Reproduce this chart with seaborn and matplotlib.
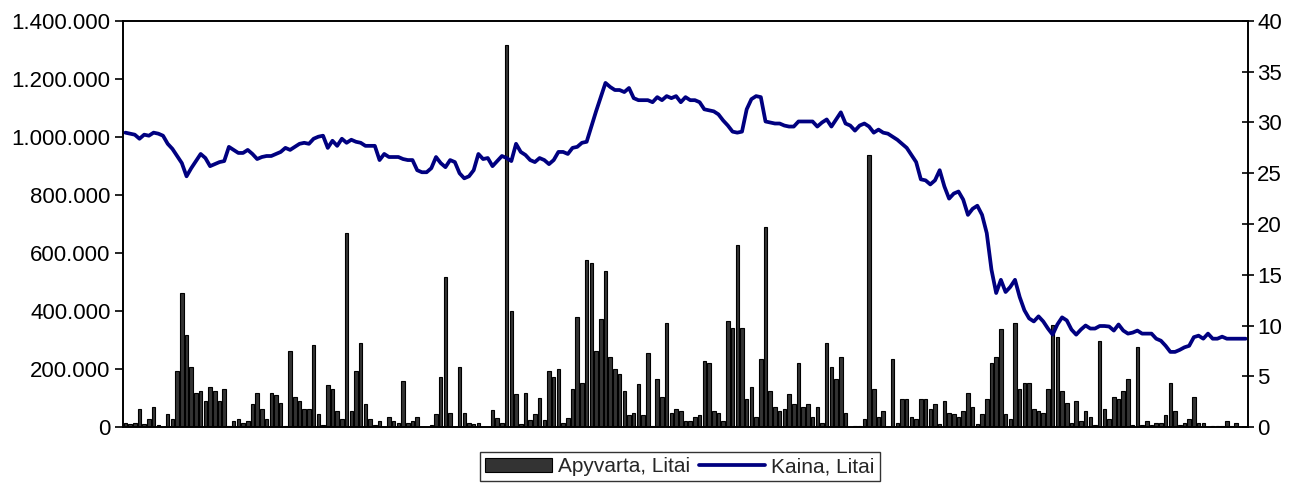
import matplotlib
matplotlib.use("Agg")
import matplotlib.pyplot as plt
from matplotlib.ticker import FuncFormatter, MultipleLocator
import seaborn as sns
import pandas as pd
import numpy as np

# daily turnover, thousands of litai (left to right)
turnover_k = [
    13, 10, 15, 62, 10, 27, 70, 8, 0, 44, 27, 194, 463, 317, 208, 118, 125, 91, 139, 125,
    91, 131, 3, 22, 27, 15, 22, 78, 118, 62, 27, 118, 111, 84, 5,
    263, 105, 91, 62, 62, 283, 44, 8, 145, 131, 56, 28, 670, 56, 194, 290, 78, 28, 8, 22,
    0, 36, 22, 15, 159, 15, 22, 36, 0, 0, 8, 44, 173, 518,
    49, 0, 208, 49, 15, 10, 15, 0, 0, 57, 30, 15, 1317, 400, 113, 10, 118, 24, 44, 99,
    24, 194, 174, 201, 15, 30, 132, 380, 153, 575, 567, 263, 372, 539,
    242, 200, 182, 125, 41, 49, 147, 41, 256, 3, 166, 105, 360, 49, 63, 56, 22, 22, 36, 41,
    229, 222, 56, 49, 22, 367, 340, 628, 340, 98, 139, 36, 236, 691,
    125, 70, 56, 62, 113, 78, 222, 70, 78, 36, 70, 15, 291, 208, 167, 242, 49, 0, 5, 5,
    29, 938, 131, 36, 56, 0, 234, 15, 97, 97, 36, 29, 97, 97, 62,
    78, 9, 91, 49, 44, 36, 56, 118, 70, 9, 44, 98, 222, 242, 339, 44, 27, 360, 132, 153,
    153, 62, 56, 49, 132, 352, 311, 125, 84, 15, 91, 22, 56, 36,
    7, 298, 62, 29, 105, 98, 124, 167, 7, 277, 7, 22, 7, 15, 15, 43, 152, 56, 7, 15,
    29, 105, 15, 15, 0, 5, 5, 5, 22, 5, 15, 0, 0,
]

# share price, litai
price = [
    29.0, 28.9, 28.8, 28.4, 28.8, 28.7, 29.0, 28.9, 28.7, 27.9, 27.4, 26.7, 26.0, 24.7, 25.5,
    26.2, 26.9, 26.5, 25.7, 25.9, 26.1, 26.2, 27.6, 27.3, 27.0, 27.0, 27.3, 26.9, 26.4, 26.6,
    26.7, 26.7, 26.9, 27.1, 27.5,
    27.3, 27.6, 27.9, 28.0, 27.9, 28.4, 28.6, 28.7, 27.5, 28.2, 27.7, 28.4, 28.0, 28.3, 28.1,
    28.0, 27.7, 27.7, 27.7, 26.3, 26.9, 26.6, 26.6, 26.6, 26.4, 26.3, 26.3, 25.3, 25.1, 25.1,
    25.5, 26.6, 26.0, 25.6,
    26.3, 26.1, 25.0, 24.5, 24.7, 25.3, 26.9, 26.4, 26.5, 25.7, 26.2, 26.7, 26.5, 26.2, 27.9,
    27.1, 26.8, 26.3, 26.1, 26.5, 26.3, 25.9, 26.3, 27.1, 27.1, 26.9, 27.5, 27.6, 28.0, 28.1,
    29.6, 31.1, 32.5, 33.9,
    33.5, 33.2, 33.2, 33.0, 33.4, 32.4, 32.2, 32.2, 32.2, 32.0, 32.5, 32.2, 32.6, 32.4, 32.6,
    32.0, 32.5, 32.2, 32.2, 32.0, 31.3, 31.2, 31.1, 30.8, 30.2, 29.7, 29.1, 29.0, 29.1, 31.3,
    32.3, 32.6, 32.5, 30.1,
    30.0, 29.9, 29.9, 29.7, 29.6, 29.6, 30.1, 30.1, 30.1, 30.1, 29.6, 30.0, 30.3, 29.6, 30.3,
    31.0, 29.9, 29.7, 29.2, 29.7, 29.9, 29.6, 29.0, 29.3, 29.0, 28.9, 28.6, 28.3, 27.9, 27.5,
    26.8, 26.1, 24.4, 24.3, 23.9,
    24.3, 25.3, 23.7, 22.5, 23.0, 23.2, 22.4, 20.9, 21.5, 21.8, 20.9, 19.1, 15.5, 13.2, 14.5,
    13.3, 13.8, 14.5, 12.8, 11.5, 10.7, 10.4, 10.9, 10.4, 9.7, 9.1, 10.1, 10.8, 10.5, 9.6,
    9.1, 9.6, 10.0, 9.7,
    9.7, 9.95, 9.95, 9.9, 9.5, 10.1, 9.5, 9.2, 9.3, 9.5, 9.2, 9.2, 9.2, 8.7, 8.5,
    8.0, 7.4, 7.4, 7.6, 7.85, 8.0, 8.85, 9.0, 8.7, 9.2, 8.7, 8.7, 8.9, 8.7, 8.7,
    8.7, 8.7, 8.7,
]

df = pd.DataFrame({
    "day": np.arange(len(price)),
    "turnover": np.array(turnover_k) * 1000,
    "price": price,
})

sns.set_theme(style="white")
plt.rcParams["font.family"] = ["Liberation Sans", "DejaVu Sans"]

fig = plt.figure(figsize=(12.91, 4.86), dpi=100)
ax = fig.add_axes([123 / 1291, 59 / 486, 1125 / 1291, 406 / 486])

sns.barplot(data=df, x="day", y="turnover", ax=ax, color="#333333", saturation=1,
            width=0.75, edgecolor="black", linewidth=0.8)
ax2 = ax.twinx()
sns.lineplot(data=df, x="day", y="price", ax=ax2, color="#000080", linewidth=2.7)

n = len(df)
ax.set_xlim(-0.5, n - 0.5)
ax.set_ylim(0, 1400000)
ax2.set_ylim(0, 40)
ax.yaxis.set_major_locator(MultipleLocator(200000))
ax2.yaxis.set_major_locator(MultipleLocator(5))
ax.yaxis.set_major_formatter(FuncFormatter(lambda v, p: f"{int(v):,}".replace(",", ".")))

ax.set_xticks([])
ax.set_xlabel("")
ax.set_ylabel("")
ax2.set_ylabel("")

for a in (ax, ax2):
    for s in a.spines.values():
        s.set_color("black")
        s.set_linewidth(1.2)

ax.tick_params(axis="y", left=True, direction="out", length=6, width=1.2,
               labelsize=16, colors="black", pad=3)
ax2.tick_params(axis="y", right=True, direction="inout", length=9, width=1.2,
                labelsize=16, colors="black", pad=2)

bar_handle = ax.patches[0]
line_handle = ax2.lines[0]
leg = fig.legend([bar_handle, line_handle], ["Apyvarta, Litai", "Kaina, Litai"],
                 loc="lower center", bbox_to_anchor=(680 / 1291, -0.012), ncol=2,
                 fontsize=15, frameon=True, fancybox=False, edgecolor="black",
                 handlelength=3.2, handletextpad=0.3, columnspacing=0.4,
                 borderpad=0.25)
leg.get_frame().set_linewidth(1.0)

fig.savefig("out.png", dpi=100)
